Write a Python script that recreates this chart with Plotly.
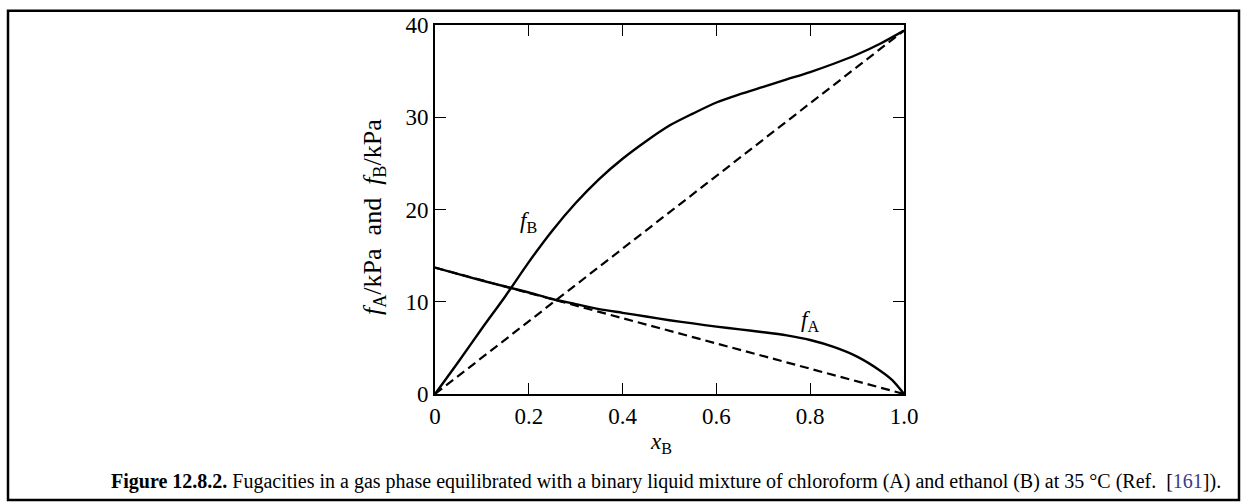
import plotly.graph_objects as go

# Data
x_B = [0.0, 0.05, 0.1, 0.15, 0.2, 0.25, 0.3, 0.35, 0.4, 0.45, 0.5,
       0.55, 0.6, 0.65, 0.7, 0.75, 0.8, 0.85, 0.9, 0.95, 1.0]
f_B = [0.0, 3.5, 7.1, 10.6, 14.3, 17.7, 20.7, 23.3, 25.5, 27.4, 29.1,
       30.4, 31.6, 32.5, 33.3, 34.1, 34.9, 35.8, 36.8, 38.0, 39.4]

x_A = [0.0, 0.05, 0.1, 0.15, 0.2, 0.25, 0.3, 0.35, 0.4, 0.45, 0.5,
       0.55, 0.6, 0.65, 0.7, 0.75, 0.8, 0.85, 0.9, 0.95, 0.975, 1.0]
f_A = [13.7, 13.0, 12.3, 11.65, 11.0, 10.3, 9.75, 9.2, 8.8, 8.4, 8.0,
       7.65, 7.3, 7.0, 6.7, 6.35, 5.85, 5.1, 4.05, 2.5, 1.5, 0.0]

ideal_x = [0.0, 1.0]
ideal_fA = [13.7, 0.0]
ideal_fB = [0.0, 39.4]

x_ticks = [0, 0.2, 0.4, 0.6, 0.8, 1.0]
x_ticklabels = ["0", "0.2", "0.4", "0.6", "0.8", "1.0"]
y_ticks = [0, 10, 20, 30, 40]
y_ticklabels = ["0", "10", "20", "30", "40"]

FONT = "Liberation Serif"
W, H = 1247, 502
L, R, T, B = 435, 343, 25, 108

fig = go.Figure()
fig.add_trace(go.Scatter(x=ideal_x, y=ideal_fA, mode="lines",
                         line=dict(color="black", width=2.2, dash="9px,5px"),
                         hoverinfo="skip"))
fig.add_trace(go.Scatter(x=ideal_x, y=ideal_fB, mode="lines",
                         line=dict(color="black", width=2.2, dash="9px,5px"),
                         hoverinfo="skip"))
fig.add_trace(go.Scatter(x=x_B, y=f_B, mode="lines",
                         line=dict(shape="spline", smoothing=0.8, color="black", width=2.4)))
fig.add_trace(go.Scatter(x=x_A, y=f_A, mode="lines",
                         line=dict(shape="spline", smoothing=0.8, color="black", width=2.4)))

axis_common = dict(showgrid=False, zeroline=False, showline=True, linecolor="black",
                   linewidth=1.8, mirror="ticks", ticks="inside", ticklen=11,
                   tickwidth=1.3, tickcolor="black",
                   tickfont=dict(family=FONT, size=23, color="black"))

fig.update_xaxes(range=[0, 1], tickvals=x_ticks, ticktext=x_ticklabels, **axis_common)
fig.update_yaxes(range=[0, 40], tickvals=y_ticks, ticktext=y_ticklabels, **axis_common)

pw, ph = W - L - R, H - T - B
def px(xp):
    return (xp - L) / pw
def py(yp):
    return 1 - (yp - T) / ph

# axis titles
fig.add_annotation(xref="paper", yref="paper", x=px(661), y=py(443),
                   text="<i>x</i><sub>B</sub>", showarrow=False,
                   xanchor="center", yanchor="middle",
                   font=dict(family=FONT, size=23, color="black"))
fig.add_annotation(xref="paper", yref="paper", x=px(374), y=py(217),
                   text="<i>f</i><sub>A</sub>/kPa  and  <i>f</i><sub>B</sub>/kPa",
                   textangle=-90, showarrow=False,
                   xanchor="center", yanchor="middle",
                   font=dict(family=FONT, size=26, color="black"))

fig.add_annotation(x=0.2, y=18.6, text="<i>f</i><sub>B</sub>", showarrow=False,
                   font=dict(family=FONT, size=23, color="black"))
fig.add_annotation(x=0.80, y=7.9, text="<i>f</i><sub>A</sub>", showarrow=False,
                   font=dict(family=FONT, size=23, color="black"))

caption = ("<b>Figure 12.8.2.</b> Fugacities in a gas phase equilibrated with a binary "
           "liquid mixture of chloroform (A) and ethanol (B) at 35 °C (Ref.  "
           "[<span style='color:#3b3b8f'>161</span>]).")
fig.add_annotation(xref="paper", yref="paper", x=px(666), y=py(481), text=caption,
                   showarrow=False, xanchor="center", yanchor="middle",
                   font=dict(family=FONT, size=20, color="black"))

fig.add_shape(type="rect", xref="paper", yref="paper",
              x0=px(8), x1=px(1239), y0=py(10.8), y1=py(500),
              line=dict(color="black", width=2.5), fillcolor="rgba(0,0,0,0)")

fig.update_layout(width=W, height=H, margin=dict(l=L, r=R, t=T, b=B),
                  paper_bgcolor="white", plot_bgcolor="white", showlegend=False)

fig.write_html("out.html", config={"displayModeBar": False},
               post_script="document.body.style.margin='0px';document.body.style.overflow='hidden';")
